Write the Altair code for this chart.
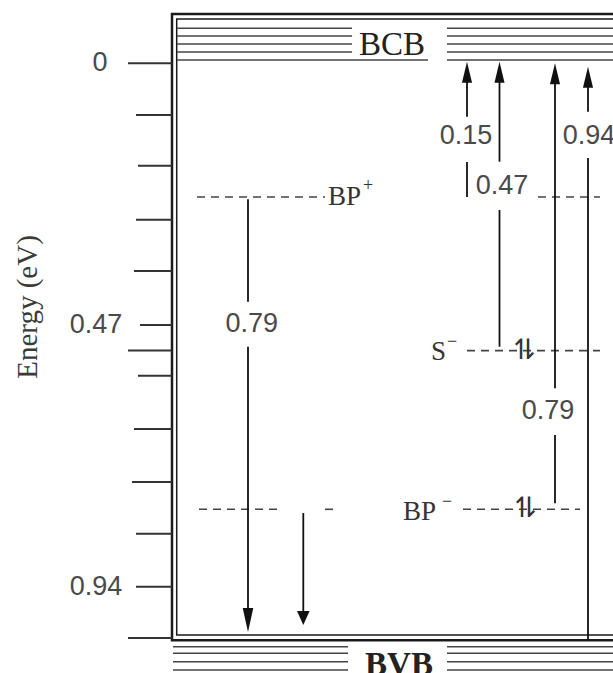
import altair as alt
import pandas as pd

# Vertical axis: energy below the conduction-band edge (eV), growing downward
E_TOP, E_BOTTOM = -0.1137, 1.095
# Horizontal placement is schematic (arbitrary units across the figure)
X_MIN, X_MAX = 0, 613

# ---- ruler on the left -------------------------------------------------
tick_energy = [0, 0.093, 0.184, 0.281, 0.373, 0.47, 0.516, 0.561, 0.657,
               0.752, 0.845, 0.94, 1.032]
tick_start = [128, 136, 138, 136, 134, 140, 128, 138, 134, 132, 136, 136, 128]
tick_end = 172
ruler_labels = ["0", "0.47", "0.94"]
ruler_label_energy = [0, 0.47, 0.94]
ruler_label_x = [100, 96, 96]

# ---- frame (double border) --------------------------------------------
frame_left = [172, 176.7]
frame_top = [-0.0885, -0.0796]
frame_bottom = [1.036, 1.0268]
frame_width = [2.5, 1.5]

# ---- band edges drawn as line stacks ----------------------------------
cb_lines = [-0.0629, -0.0490, -0.0347, -0.0203, -0.0059]
cb_left_end = [352, 352, 352, 352, 428]
vb_lines = [1.0478, 1.0596, 1.0747, 1.0897]

# ---- defect levels (dashed) -------------------------------------------
level_x0 = [197, 538, 467, 463, 199, 325]
level_x1 = [325, 600, 600, 580, 282, 333]
level_e = [0.24, 0.24, 0.516, 0.801, 0.801, 0.801]

# level names and their superscript charges
name_text = ["BP", "S", "BP"]
name_x = [328, 431, 403]
name_e = [0.24, 0.518, 0.805]
charge_text = ["+", "\u2212", "\u2212"]
charge_x = [368, 452, 447]
charge_e = [0.221, 0.50, 0.787]

# ---- optical transitions ----------------------------------------------
up_x = [467, 499.5, 555, 588]
up_from = [0.24, 0.509, 0.790, 1.035]
up_tip = [-0.003, -0.003, 0.0, 0.006]
up_gap_top = [0.0959, 0.1767, 0.5837, 0.0869]
up_gap_bottom = [0.1773, 0.2635, 0.6676, 0.170]
up_label = ["0.15", "0.47", "0.79", "0.94"]
up_label_x = [466, 502, 548, 589]
up_label_e = [0.1306, 0.2195, 0.6245, 0.1306]

down_x = [248, 303.3]
down_from = [0.244, 0.8077]
down_tip = [1.0214, 1.0088]
down_gap_top = [0.4282, None]
down_gap_bottom = [0.509, None]
down_label = ["0.79"]
down_label_x = [251.7]
down_label_e = [0.4683]

# paired-spin markers on the occupied levels
spin_x = [521, 528, 522, 529]
spin_e = [0.516, 0.516, 0.801, 0.801]
spin_glyph = ["\u21bf", "\u21c2", "\u21bf", "\u21c2"]

# ---- band names --------------------------------------------------------
band_text = ["BCB"]
band_x = [392]
band_e = [-0.0149]
vband_text = ["BVB"]
vband_x = [399]
vband_e = [1.099]

axis_title = "Energy (eV)"

# ========================================================================
xs = alt.Scale(domain=[X_MIN, X_MAX])
ys = alt.Scale(domain=[E_TOP, E_BOTTOM], reverse=True)


def X(f="x"):
    return alt.X(f"{f}:Q", scale=xs, axis=None)


def Y(f="e"):
    return alt.Y(f"{f}:Q", scale=ys, axis=None)


# frame
frame_df = pd.DataFrame({"x": frame_left, "x1": [700, 700], "e": frame_top,
                         "e1": frame_bottom, "w": frame_width})
frame = alt.Chart(frame_df).mark_rect(fillOpacity=0, stroke="#1a1a1a", clip=True).encode(
    x=X(), x2="x1:Q", y=Y(), y2="e1:Q",
    strokeWidth=alt.StrokeWidth("w:Q", scale=None))

# ruler
tick_df = pd.DataFrame({"x": tick_start, "x1": [tick_end] * len(tick_start), "e": tick_energy})
ticks = alt.Chart(tick_df).mark_rule(color="#333333", strokeWidth=2).encode(
    x=X(), x2="x1:Q", y=Y())

ruler_df = pd.DataFrame({"x": ruler_label_x, "e": ruler_label_energy, "t": ruler_labels})
ruler_text = alt.Chart(ruler_df).mark_text(
    font="Liberation Sans", fontSize=27, color="#4a4a4a", align="center", baseline="middle"
).encode(x=X(), y=Y(), text="t:N")

title_df = pd.DataFrame({"x": [28], "e": [0.4377], "t": [axis_title]})
title = alt.Chart(title_df).mark_text(
    font="Liberation Serif", fontSize=29, color="#3a3a3a", angle=270,
    align="center", baseline="middle"
).encode(x=X(), y=Y(), text="t:N")

# band line stacks
band_rows = []
for e, xl in zip(cb_lines, cb_left_end):
    band_rows.append({"x": 177, "x1": xl, "e": e})
    band_rows.append({"x": 447, "x1": 700, "e": e})
for e in vb_lines:
    band_rows.append({"x": 173, "x1": 348, "e": e})
    band_rows.append({"x": 447, "x1": 700, "e": e})
bands = alt.Chart(pd.DataFrame(band_rows)).mark_rule(
    color="#444444", strokeWidth=1.6, clip=True
).encode(x=X(), x2="x1:Q", y=Y())

band_label = alt.Chart(pd.DataFrame({"x": band_x, "e": band_e, "t": band_text})).mark_text(
    font="Liberation Serif", fontSize=33, color="#222222", align="center", baseline="alphabetic"
).encode(x=X(), y=Y(), text="t:N")
vband_label = alt.Chart(pd.DataFrame({"x": vband_x, "e": vband_e, "t": vband_text})).mark_text(
    font="Liberation Serif", fontSize=33, fontWeight="bold", color="#222222",
    align="center", baseline="alphabetic"
).encode(x=X(), y=Y(), text="t:N")

# dashed levels
level_df = pd.DataFrame({"x": level_x0, "x1": level_x1, "e": level_e})
levels = alt.Chart(level_df).mark_rule(
    color="#444444", strokeWidth=1.6, strokeDash=[8, 6]
).encode(x=X(), x2="x1:Q", y=Y())

names = alt.Chart(pd.DataFrame({"x": name_x, "e": name_e, "t": name_text})).mark_text(
    font="Liberation Serif", fontSize=27, color="#333333", align="left", baseline="middle"
).encode(x=X(), y=Y(), text="t:N")
charges = alt.Chart(pd.DataFrame({"x": charge_x, "e": charge_e, "t": charge_text})).mark_text(
    font="Liberation Serif", fontSize=18, color="#333333", align="center", baseline="middle"
).encode(x=X(), y=Y(), text="t:N")

spins = alt.Chart(pd.DataFrame({"x": spin_x, "e": spin_e, "t": spin_glyph})).mark_text(
    font="DejaVu Sans", fontSize=28, color="#333333", align="center", baseline="middle"
).encode(x=X(), y=Y(), text="t:N")

# transition shafts (split around their labels)
shaft_rows = []
for x, f, t, gt, gb in zip(up_x, up_from, up_tip, up_gap_top, up_gap_bottom):
    shaft_rows.append({"x": x, "e": f, "e1": gb})
    shaft_rows.append({"x": x, "e": gt, "e1": t + 0.01})
for x, f, t, gt, gb in zip(down_x, down_from, down_tip, down_gap_top, down_gap_bottom):
    if gt is None:
        shaft_rows.append({"x": x, "e": f, "e1": t - 0.01})
    else:
        shaft_rows.append({"x": x, "e": f, "e1": gt})
        shaft_rows.append({"x": x, "e": gb, "e1": t - 0.01})
shafts = alt.Chart(pd.DataFrame(shaft_rows)).mark_rule(
    color="#111111", strokeWidth=1.8
).encode(x=X(), y=Y(), y2="e1:Q")

up_heads = alt.Chart(pd.DataFrame({"x": up_x, "e": up_tip})).mark_point(
    shape="M0,0L0.24,1L-0.24,1Z", size=1764, filled=True, fill="#111111", opacity=1
).encode(x=X(), y=Y())
down_head_big = alt.Chart(pd.DataFrame({"x": down_x[:1], "e": down_tip[:1]})).mark_point(
    shape="M0,0L0.22,-1L-0.22,-1Z", size=2304, filled=True, fill="#111111", opacity=1
).encode(x=X(), y=Y())
down_head_small = alt.Chart(pd.DataFrame({"x": down_x[1:], "e": down_tip[1:]})).mark_point(
    shape="M0,0L0.45,-1L-0.45,-1Z", size=784, filled=True, fill="#111111", opacity=1
).encode(x=X(), y=Y())

label_df = pd.DataFrame({"x": up_label_x + down_label_x,
                         "e": up_label_e + down_label_e,
                         "t": up_label + down_label})
labels = alt.Chart(label_df).mark_text(
    font="Liberation Sans", fontSize=27, color="#4a4a4a", align="center", baseline="middle"
).encode(x=X(), y=Y(), text="t:N")

chart = alt.layer(
    frame, bands, ticks, ruler_text, title, band_label, vband_label,
    levels, names, charges, spins, shafts, up_heads, down_head_big,
    down_head_small, labels
).properties(
    width=613, height=673, padding=0, autosize="none", background="white"
).configure_view(stroke=None)

chart.save("out.html", embed_options={"renderer": "svg", "actions": False})
